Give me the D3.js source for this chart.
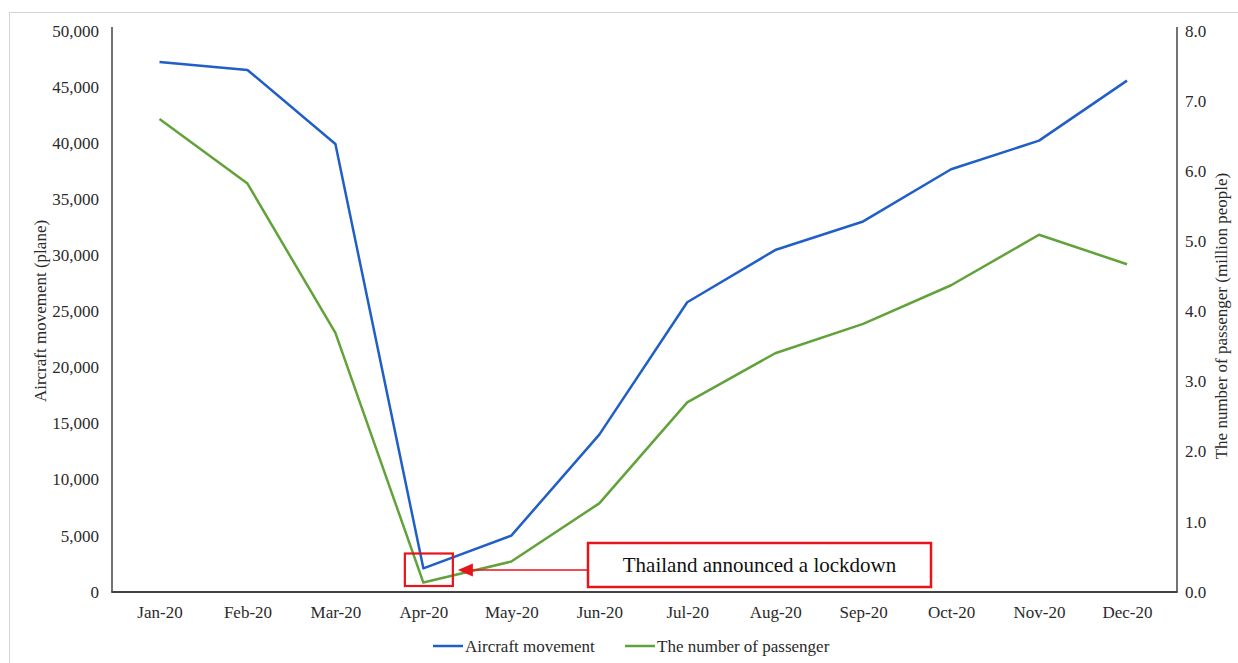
<!DOCTYPE html>
<html>
<head>
<meta charset="utf-8">
<script src="https://cdn.jsdelivr.net/npm/d3@7/dist/d3.min.js"></script>
<style>
  html, body { margin: 0; padding: 0; background: #fff; }
  svg { display: block; font-family: "Liberation Serif", "Times New Roman", serif; }
</style>
</head>
<body>
<svg id="chart" width="1238" height="663"></svg>
<script>
// Monthly categories (2020)
const months = ["Jan-20", "Feb-20", "Mar-20", "Apr-20", "May-20", "Jun-20",
                "Jul-20", "Aug-20", "Sep-20", "Oct-20", "Nov-20", "Dec-20"];

// Aircraft movement (planes), left axis
const aircraft = [47200, 46500, 39900, 2080, 5000, 14000,
                  25800, 30450, 33000, 37650, 40200, 45550];

// Number of passengers (million people), right axis
const passengers = [6.74, 5.82, 3.69, 0.13, 0.43, 1.26,
                    2.70, 3.40, 3.82, 4.37, 5.09, 4.67];

const leftTicks = [0, 5000, 10000, 15000, 20000, 25000, 30000, 35000, 40000, 45000, 50000];
const rightTicks = [0, 1, 2, 3, 4, 5, 6, 7, 8];

const seriesNames = ["Aircraft movement", "The number of passenger"];
const annotationText = "Thailand announced a lockdown";
const lockdownMonth = "Apr-20";

const blue = "#1f5fc6";
const green = "#62a23a";
const red = "#e8141c";
const axisColor = "#444";
const textColor = "#2a2a2a";

const svg = d3.select("#chart");

// Plot frame
const plot = { left: 112, right: 1177, top: 27, bottom: 592 };

const x = d3.scalePoint().domain(months).range([159.5, 1127]);
const yL = d3.scaleLinear().domain([0, 50000]).range([591.7, 30.7]);
const yR = d3.scaleLinear().domain([0, 8]).range([591.7, 30.7]);

// Outer light border (top and left edges)
svg.append("line").attr("x1", 9.5).attr("x2", 9.5).attr("y1", 12).attr("y2", 663)
  .attr("stroke", "#d4d4d4").attr("stroke-width", 1);
svg.append("line").attr("x1", 9).attr("x2", 1238).attr("y1", 12.5).attr("y2", 12.5)
  .attr("stroke", "#d4d4d4").attr("stroke-width", 1);

// Left axis
const gL = svg.append("g").attr("transform", `translate(${plot.left},0)`)
  .call(d3.axisLeft(yL).tickValues(leftTicks).tickFormat(d3.format(",")).tickSize(0).tickPadding(13));
gL.select(".domain").remove();

// Right axis
const gR = svg.append("g").attr("transform", `translate(${plot.right},0)`)
  .call(d3.axisRight(yR).tickValues(rightTicks).tickFormat(d3.format(".1f")).tickSize(0).tickPadding(8));
gR.select(".domain").remove();

// Bottom axis
const gB = svg.append("g").attr("transform", `translate(0,${plot.bottom})`)
  .call(d3.axisBottom(x).tickSize(0).tickPadding(14));
gB.select(".domain").remove();

svg.selectAll(".tick text")
  .attr("font-family", "Liberation Serif, Times New Roman, serif")
  .attr("font-size", 17)
  .attr("fill", textColor);

// Axis lines
svg.append("line").attr("x1", plot.left).attr("x2", plot.left)
  .attr("y1", plot.top).attr("y2", plot.bottom)
  .attr("stroke", axisColor).attr("stroke-width", 1.5);
svg.append("line").attr("x1", plot.right).attr("x2", plot.right)
  .attr("y1", plot.top).attr("y2", plot.bottom)
  .attr("stroke", axisColor).attr("stroke-width", 1.5);
svg.append("line").attr("x1", plot.left - 0.75).attr("x2", plot.right + 0.75)
  .attr("y1", plot.bottom).attr("y2", plot.bottom)
  .attr("stroke", axisColor).attr("stroke-width", 2);

// Axis titles
svg.append("text")
  .attr("transform", "translate(46,311) rotate(-90)")
  .attr("text-anchor", "middle")
  .attr("font-size", 17).attr("fill", textColor)
  .text("Aircraft movement (plane)");
svg.append("text")
  .attr("transform", "translate(1227,316) rotate(-90)")
  .attr("text-anchor", "middle")
  .attr("font-size", 17).attr("fill", textColor)
  .text("The number of passenger (million people)");

// Series lines
const lineL = d3.line().x((d, i) => x(months[i])).y(d => yL(d));
const lineR = d3.line().x((d, i) => x(months[i])).y(d => yR(d));

svg.append("path").datum(aircraft).attr("d", lineL)
  .attr("fill", "none").attr("stroke", blue).attr("stroke-width", 2.5)
  .attr("stroke-linejoin", "round");
svg.append("path").datum(passengers).attr("d", lineR)
  .attr("fill", "none").attr("stroke", green).attr("stroke-width", 2.5)
  .attr("stroke-linejoin", "round");

// Lockdown annotation
const ax = x(lockdownMonth);
svg.append("rect")
  .attr("x", ax - 18.5).attr("y", 553.5).attr("width", 48).attr("height", 32.5)
  .attr("fill", "none").attr("stroke", red).attr("stroke-width", 2.2);

const boxX = 588, boxY = 543, boxW = 343, boxH = 44;
svg.append("rect")
  .attr("x", boxX).attr("y", boxY).attr("width", boxW).attr("height", boxH)
  .attr("fill", "#fff").attr("stroke", red).attr("stroke-width", 2.5);
svg.append("text")
  .attr("x", boxX + boxW / 2).attr("y", boxY + boxH / 2 + 7)
  .attr("text-anchor", "middle")
  .attr("font-size", 21).attr("fill", "#111")
  .text(annotationText);

// Arrow from the text box to the lockdown marker
const arrowY = 570;
const tipX = ax + 34.5;
svg.append("line").attr("x1", boxX - 1).attr("x2", tipX + 12)
  .attr("y1", arrowY).attr("y2", arrowY)
  .attr("stroke", red).attr("stroke-width", 1.5);
svg.append("path")
  .attr("d", `M${tipX},${arrowY} L${tipX + 15},${arrowY - 6.5} L${tipX + 15},${arrowY + 6.5} Z`)
  .attr("fill", red);

// Legend
const legendY = 646;
const legendItems = [
  { name: seriesNames[0], color: blue, x: 433 },
  { name: seriesNames[1], color: green, x: 625 }
];
const lg = svg.append("g");
legendItems.forEach(it => {
  lg.append("line").attr("x1", it.x).attr("x2", it.x + 30)
    .attr("y1", legendY).attr("y2", legendY)
    .attr("stroke", it.color).attr("stroke-width", 2.5);
  lg.append("text").attr("x", it.x + 32).attr("y", legendY + 6)
    .attr("font-size", 17).attr("fill", textColor)
    .text(it.name);
});
</script>
</body>
</html>
